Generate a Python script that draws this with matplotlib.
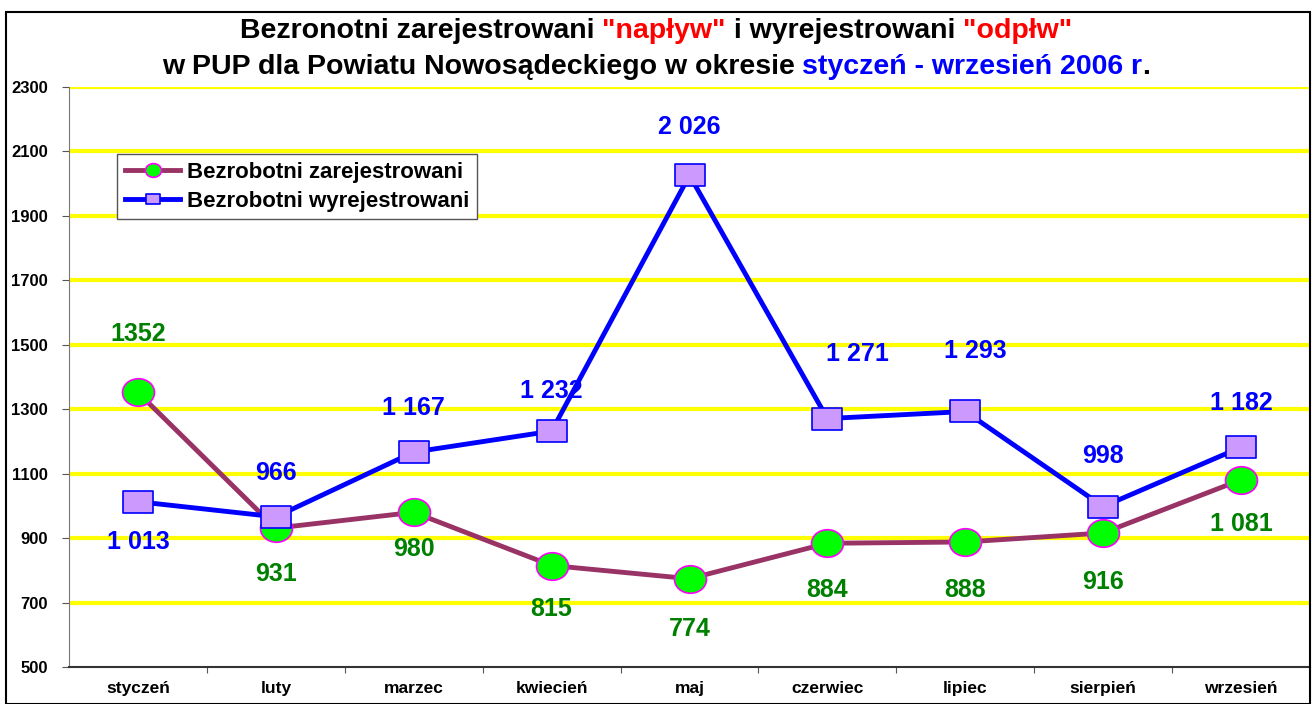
import matplotlib
matplotlib.use('Agg')
import matplotlib.pyplot as plt
from matplotlib.patches import Rectangle
from matplotlib.path import Path
from matplotlib.offsetbox import TextArea, HPacker, VPacker, AnchoredOffsetbox

months = ['styczeń', 'luty', 'marzec', 'kwiecień', 'maj', 'czerwiec', 'lipiec', 'sierpień', 'wrzesień']
zarejestrowani = [1352, 931, 980, 815, 774, 884, 888, 916, 1081]
wyrejestrowani = [1013, 966, 1167, 1232, 2026, 1271, 1293, 998, 1182]
labels_zar = ['1352', '931', '980', '815', '774', '884', '888', '916', '1 081']
labels_wyr = ['1 013', '966', '1 167', '1 232', '2 026', '1 271', '1 293', '998', '1 182']
yticks = list(range(500, 2301, 200))

# label offsets in pixels (dx, dy)
off_zar = [(0, 58), (0, -46), (0, -37), (0, -43), (0, -50), (0, -47), (0, -48), (0, -49), (0, -44)]
off_wyr = [(0, -40), (0, 44), (0, 44), (0, 40), (0, 48), (30, 65), (10, 60), (0, 51), (0, 44)]

plt.rcParams['font.family'] = ['Liberation Sans', 'DejaVu Sans']

# markers are a bit wider than tall in the original
circ = Path.unit_circle()
ellipse = Path(circ.vertices * [1.16, 1.0], circ.codes)
rect = Path([(-1.33, -1), (1.33, -1), (1.33, 1), (-1.33, 1), (-1.33, -1)],
            [Path.MOVETO, Path.LINETO, Path.LINETO, Path.LINETO, Path.CLOSEPOLY])

fig = plt.figure(figsize=(13.12, 7.04), dpi=100)
ax = fig.add_axes([69 / 1312, 37 / 704, (1310 - 69) / 1312, (667 - 87) / 704])

x = list(range(len(months)))
for y in yticks[1:]:
    ax.axhline(y, color='#FFFF00', lw=3, zorder=1)

ax.plot(x, zarejestrowani, color='#993366', lw=3.5, marker=ellipse, markersize=23,
        markerfacecolor='#00FF00', markeredgecolor='#FF00FF', markeredgewidth=1.2,
        label='Bezrobotni zarejestrowani', zorder=3)
ax.plot(x, wyrejestrowani, color='#0000FF', lw=3.5, marker=rect, markersize=21,
        markerfacecolor='#CC99FF', markeredgecolor='#0000FF', markeredgewidth=1.2,
        label='Bezrobotni wyrejestrowani', zorder=4)

for i in x:
    ax.annotate(labels_zar[i], (i, zarejestrowani[i]), xytext=off_zar[i], textcoords='offset pixels',
                ha='center', va='center', color='#008000', fontsize=18, fontweight='bold', zorder=5)
    ax.annotate(labels_wyr[i], (i, wyrejestrowani[i]), xytext=off_wyr[i], textcoords='offset pixels',
                ha='center', va='center', color='#0000FF', fontsize=18, fontweight='bold', zorder=5)

ax.set_xlim(-0.5, len(months) - 0.5)
ax.set_ylim(500, 2300)
ax.set_yticks(yticks)
ax.set_yticklabels([str(v) for v in yticks], fontsize=12, fontweight='bold')
ax.set_xticks([i + 0.5 for i in x[:-1]])
ax.set_xticklabels([])
ax.set_xticks(x, minor=True)
ax.set_xticklabels(months, minor=True, fontsize=12.5, fontweight='bold')
ax.tick_params(axis='x', which='minor', length=0, pad=10)
ax.tick_params(axis='x', which='major', length=4, color='#555555')
ax.tick_params(axis='y', length=5, pad=10, color='#555555')
ax.spines['top'].set_visible(False)
ax.spines['right'].set_visible(False)
ax.spines['left'].set_color('#777777')
ax.spines['bottom'].set_color('#333333')
ax.spines['bottom'].set_linewidth(1.5)

leg = ax.legend(loc='upper left', bbox_to_anchor=((117 - 69) / 1241, (2092 - 500) / 1800), borderaxespad=0,
                fancybox=False, edgecolor='#555555', framealpha=1, prop={'weight': 'bold', 'size': 16},
                handlelength=2.5, markerscale=0.5, borderpad=0.35, labelspacing=0.35, handletextpad=0.3)
leg.get_frame().set_linewidth(1)

# multi-coloured title
tf = dict(fontsize=20.5, fontweight='bold')
def part(s, c):
    return TextArea(s, textprops=dict(color=c, **tf))
line1 = HPacker(children=[part('Bezronotni zarejestrowani ', 'black'), part('"napływ"', '#FF0000'),
                          part(' i wyrejestrowani ', 'black'), part('"odpłw"', '#FF0000')], sep=0, pad=0)
line2 = HPacker(children=[part('w PUP dla Powiatu Nowosądeckiego w okresie ', 'black'),
                          part('styczeń - wrzesień 2006 r', '#0000FF'), part('.', 'black')], sep=0, pad=0)
title = VPacker(children=[line1, line2], align='center', sep=7, pad=0)
fig.add_artist(AnchoredOffsetbox(loc='upper center', child=title, frameon=False,
                                 bbox_to_anchor=(0.5, 1 - 11 / 704), bbox_transform=fig.transFigure, pad=0))

fig.add_artist(Rectangle((6 / 1312, 0), 1304 / 1312, 1 - 12 / 704, transform=fig.transFigure,
                         fill=False, edgecolor='black', lw=1.5))

fig.savefig('out.png', dpi=100)
